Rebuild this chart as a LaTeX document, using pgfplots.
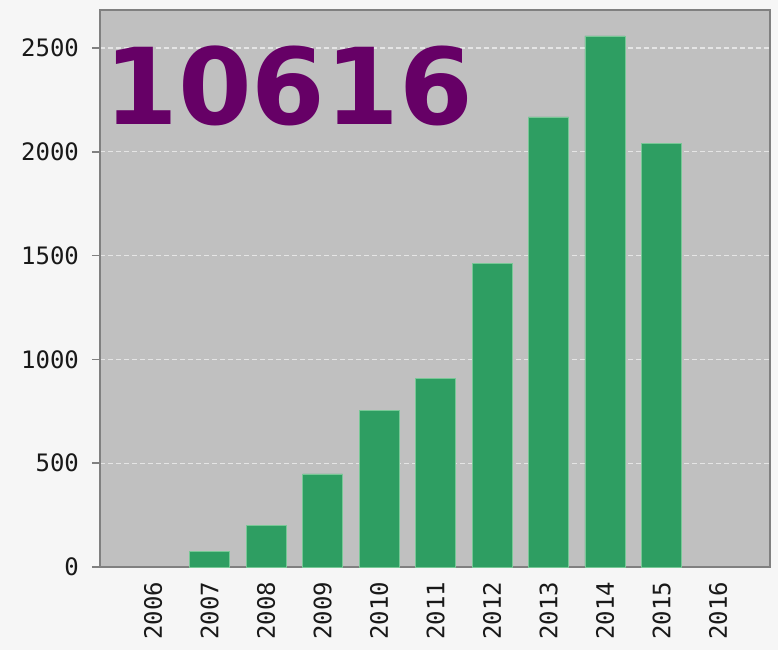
\documentclass[border=0pt]{standalone}
\usepackage{fontspec}
\setmainfont{DejaVu Sans}
\newfontfamily\monofont{DejaVu Sans Mono}
\usepackage{pgfplots}
\pgfplotsset{compat=1.18}
\definecolor{bargreen}{RGB}{46,158,98}
\definecolor{bargedge}{RGB}{120,200,150}
\definecolor{bggray}{RGB}{192,192,192}
\definecolor{pagebg}{RGB}{246,246,246}
\definecolor{purp}{RGB}{102,0,102}
\definecolor{axgray}{RGB}{128,128,128}
\begin{document}
\begin{tikzpicture}[x=1pt,y=1pt]
\fill[pagebg] (-50,-41.5) rectangle (339,283.5);
\useasboundingbox (-50,-41.5) rectangle (339,283.5);
\begin{axis}[
  at={(0,0)}, anchor=south west, scale only axis,
  width=335pt, height=278.5pt,
  xmin=2005.06, xmax=2016.92, ymin=0, ymax=2683,
  axis background/.style={fill=bggray},
  ybar, bar width=0.71,
  xtick={2006,2007,2008,2009,2010,2011,2012,2013,2014,2015,2016},
  xticklabels={2006,2007,2008,2009,2010,2011,2012,2013,2014,2015,2016},
  ytick={0,500,1000,1500,2000,2500},
  yticklabels={0,500,1000,1500,2000,2500},
  tick align=outside,
  ymajorgrids,
  grid style={white, dash pattern=on 2.5pt off 1.5pt, line width=0.7pt, opacity=0.6},
  xtick style={draw=none},
  ytick style={axgray, line width=0.8pt},
  major tick length=4pt,
  ytick pos=left,
  axis line style={axgray, line width=0.8pt},
  ticklabel style={font=\monofont\fontsize{12}{12}\selectfont, text=black!90},
  xticklabel style={rotate=90, anchor=east},
  yticklabel style={anchor=east, xshift=-3pt},
  /pgf/number format/assume math mode=true,
]
\addplot[fill=bargreen, draw=bargedge, line width=0.4pt] coordinates {
  (2007,74) (2008,202) (2009,448) (2010,756) (2011,910)
  (2012,1464) (2013,2168) (2014,2558) (2015,2042)
};
\node[anchor=north west, inner sep=0pt, text=purp,
      font=\fontsize{53}{53}\selectfont\bfseries]
  at (axis description cs:0.006,0.937) {10616};
\end{axis}
\end{tikzpicture}
\end{document}
